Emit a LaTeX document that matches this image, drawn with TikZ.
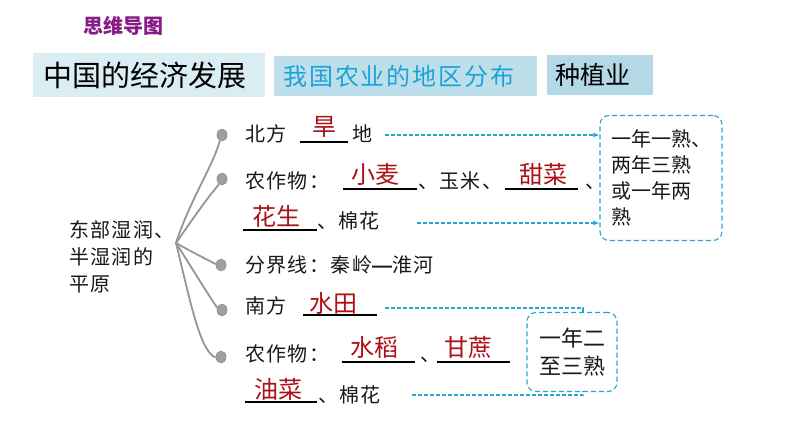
\documentclass[tikz,border=0pt]{standalone}
\usepackage{fontspec}
\usetikzlibrary{arrows.meta,shapes.geometric}
\newfontfamily\cjk{Noto Sans CJK SC}
\newfontfamily\cjksp{Noto Sans CJK SC}[LetterSpace=7]
\newfontfamily\cjkmid{Noto Sans CJK SC}[LetterSpace=8]
\newfontfamily\dashfont{Liberation Sans Bold}
\definecolor{ansred}{RGB}{172,16,22}
\definecolor{dcyan}{RGB}{40,165,205}
\definecolor{titlepurple}{RGB}{135,28,135}
\definecolor{boxa}{RGB}{218,237,243}
\definecolor{boxb}{RGB}{190,223,233}
\definecolor{boxc}{RGB}{178,217,229}
\definecolor{tblue}{RGB}{26,163,218}
\definecolor{branchgray}{RGB}{150,150,150}
\definecolor{txtblack}{RGB}{25,25,25}
\tikzset{
  txt/.style={inner sep=0pt, anchor=base west, font=\cjksp\fontsize{20}{27}\selectfont, text=txtblack},
  ans/.style={inner sep=0pt, anchor=base, font=\cjk\fontsize{24}{24}\selectfont, text=ansred},
  uline/.style={line width=1.8pt, black},
  darr/.style={dcyan, line width=1.1pt, dash pattern=on 3.5pt off 2.5pt, -{Latex[length=6pt,width=5pt]}},
  dline/.style={dcyan, line width=1.1pt, dash pattern=on 3.5pt off 2.5pt},
  dbox/.style={draw=dcyan, line width=1.1pt, dash pattern=on 5pt off 3pt, rounded corners=9pt, inner sep=0pt},
  branch/.style={branchgray, line width=1.8pt},
  bullet/.style={ellipse, minimum width=10pt, minimum height=12pt, inner sep=0pt, fill=gray!75, draw=gray!90, line width=0.6pt},
  tbox/.style={anchor=west, inner ysep=0pt, minimum height=#1, align=left},
}
\begin{document}
\begin{tikzpicture}[x=1pt,y=-1pt]
\useasboundingbox[fill=white] (0,0) rectangle (794,447);

% header
\node[inner sep=0pt, font=\cjk\bfseries\fontsize{20}{20}\selectfont, text=titlepurple] (mm) at (123,26) {思维导图};
\node[tbox=44pt, fill=boxa, inner xsep=10pt, text width=212pt, font=\cjk\fontsize{29}{29}\selectfont, text=black] (t1) at (33,75) {中国的经济发展};
\node[tbox=40pt, fill=boxb, inner xsep=9pt, text width=245pt, font=\cjkmid\fontsize{24}{24}\selectfont, text=tblue] (t2) at (274,76) {我国农业的地区分布};
\node[tbox=40pt, fill=boxc, inner xsep=8pt, text width=90pt, font=\cjk\fontsize{25}{25}\selectfont, text=black] (t3) at (547,75) {种植业};

% root text
\node[txt, anchor=north west, align=left] (root) at (69,220) {东部湿润、\\半湿润的\\平原};
\coordinate (org) at (176,243);

% bullets
\node[bullet] (b1) at (222,135) {};
\node[bullet] (b2) at (222,179) {};
\node[bullet] (b3) at (221,265) {};
\node[bullet] (b4) at (222,310) {};
\node[bullet] (b5) at (221,357) {};

% branches
\draw[branch] (org) .. controls (190,200) and (212,168) .. (b1.250);
\draw[branch] (org) .. controls (196,214) and (209,196) .. (b2.240);
\draw[branch] (org) .. controls (192,252) and (204,258) .. (b3.170);
\draw[branch] (org) .. controls (190,265) and (204,288) .. (b4.155);
\draw[branch] (org) .. controls (190,300) and (200,352) .. (b5.185);

% row 1
\node[txt] (r1a) at (245,141) {北方};
\node[ans] (r1x) at (324,135) {旱};
\draw[uline] (300,142) -- (348,142);
\node[txt] (r1b) at (352,141) {地};

% row 2
\node[txt] (r2a) at (245,188) {农作物：};
\node[ans] (r2x) at (375,183) {小麦};
\draw[uline] (343,189) -- (417,189);
\node[txt] (r2b) at (418,188) {、玉米、};
\node[ans] (r2y) at (543,183) {甜菜};
\draw[uline] (505,189) -- (578,189);
\node[txt] (r2c) at (585,188) {、};

% row 3
\node[ans] (r3x) at (276,225) {花生};
\draw[uline] (243,230) -- (317,230);
\node[txt] (r3b) at (317,228) {、棉花};

% row 4
\node[txt] (r4a) at (245,272) {分界线：秦岭{\dashfont\fontsize{20}{20}\selectfont —}淮河};

% row 5
\node[txt] (r5a) at (245,313) {南方};
\node[ans] (r5x) at (333,312) {水田};
\draw[uline] (303,315) -- (377,315);

% row 6
\node[txt] (r6a) at (245,361) {农作物：};
\node[ans] (r6x) at (374,356) {水稻};
\draw[uline] (342,362) -- (415,362);
\node[txt] (r6b) at (420,361) {、};
\node[ans] (r6y) at (468,356) {甘蔗};
\draw[uline] (437,362) -- (510,362);

% row 7
\node[ans] (r7x) at (278,398) {油菜};
\draw[uline] (245,402) -- (317,402);
\node[txt] (r7b) at (318,402) {、棉花};

% right boxes
\node[dbox, minimum width=122pt, minimum height=125pt, align=left, font=\cjk\fontsize{20}{26}\selectfont, text=txtblack] (nbox) at (661,178) {一年一熟、\\两年三熟\\或一年两\\熟};
\node[dbox, minimum width=90pt, minimum height=79pt, align=left, font=\cjk\fontsize{22}{28}\selectfont, text=txtblack] (sbox) at (572,352) {一年二\\至三熟};

% dashed connectors
\coordinate (a1) at (385,135);
\draw[darr] (a1) -- (a1 -| nbox.west);
\coordinate (a2) at (417,223);
\draw[darr] (a2) -- (a2 -| nbox.west);
\coordinate (s1) at (385,308);
\coordinate (s1e) at (583,308);
\draw[dline] (s1) -- (s1e) -- ++(0,4);
\coordinate (s2) at (412,395);
\coordinate (s2e) at (583,395);
\draw[dline] (s2) -- (s2e) -- ++(0,-4);
\end{tikzpicture}
\end{document}
